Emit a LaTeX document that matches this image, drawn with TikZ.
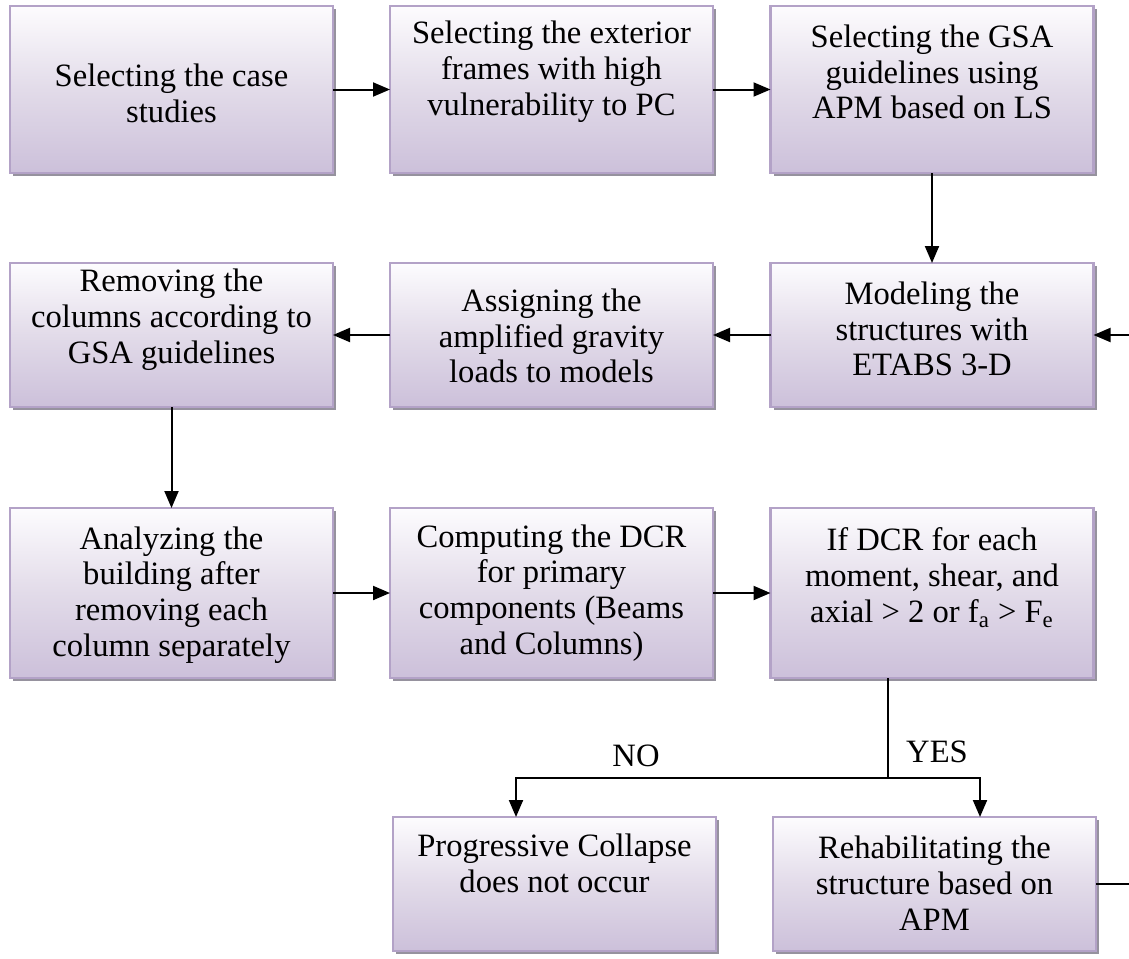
\documentclass[tikz,border=0pt]{standalone}
\usepackage{fontspec}
\setmainfont{Liberation Serif}
\usetikzlibrary{arrows.meta,shadows}
\definecolor{bord}{RGB}{179,162,199}
\definecolor{ftop}{RGB}{253,252,254}
\definecolor{fmid}{RGB}{226,219,233}
\definecolor{fbot}{RGB}{204,192,218}
\definecolor{shad}{RGB}{150,146,158}
\begin{document}
\begin{tikzpicture}[x=0.5pt,y=-0.5pt,
  box/.style={rectangle, draw=bord, line width=1.1pt, top color=ftop, bottom color=fbot, middle color=fmid,
    inner sep=0pt, outer sep=0pt, minimum width=161.5pt,
    drop shadow={shadow xshift=1.6pt, shadow yshift=-1.6pt, fill=shad, opacity=1}},
  rowa/.style={minimum height=83.5pt},
  rowb/.style={minimum height=72pt},
  rowc/.style={minimum height=85pt},
  rowd/.style={minimum height=67pt},
  txt/.style={align=center, font=\fontsize{16.3}{17.9}\selectfont, inner sep=0pt},
  lbl/.style={font=\fontsize{16.3}{17.9}\selectfont, inner sep=0pt},
  arr/.style={line width=1pt, -{Triangle[length=8.5pt,width=7pt]}},
  ln/.style={line width=1pt}]
\useasboundingbox (0,0) rectangle (1129,958);

% row 1
\node[box,rowa] (b1) at (171.5,89.5) {};
\node[box,rowa] (b2) at (551.5,89.5) {};
\node[box,rowa] (b3) at (932,89.5) {};
% row 2
\node[box,rowb] (b4) at (932,335) {};
\node[box,rowb] (b5) at (551.5,335) {};
\node[box,rowb] (b6) at (171.5,335) {};
% row 3
\node[box,rowc] (b7) at (171.5,593) {};
\node[box,rowc] (b8) at (551.5,593) {};
\node[box,rowc] (b9) at (932,593) {};
% row 4
\node[box,rowd] (b10) at (554.5,884) {};
\node[box,rowd] (b11) at (934.5,884) {};

% texts
\node[txt] (t1) at (171.5,93) {Selecting the case\\studies};
\node[txt] (t2) at (551.5,72) {Selecting the exterior\\frames with high\\vulnerability to PC};
\node[txt] (t3) at (932,72) {Selecting the GSA\\guidelines using\\APM based on LS};
\node[txt] (t4) at (932,329) {Modeling the\\structures with\\ETABS 3-D};
\node[txt] (t5) at (551.5,336) {Assigning the\\amplified gravity\\loads to models};
\node[txt] (t6) at (171.5,320) {Removing the\\columns according to\\GSA guidelines};
\node[txt] (t7) at (171.5,595) {Analyzing the\\building after\\removing each\\column separately};
\node[txt] (t8) at (551.5,593) {Computing the DCR\\for primary\\components (Beams\\and Columns)};
\node[txt] (t9) at (932,578) {If DCR for each\\moment, shear, and\\axial > 2 or f\textsubscript{a} > F\textsubscript{e}};
\node[txt] (t10) at (554.5,863) {Progressive Collapse\\does not occur};
\node[txt] (t11) at (934.5,883) {Rehabilitating the\\structure based on\\APM};

% labels
\node[lbl] (no) at (636,756) {NO};
\node[lbl] (yes) at (937,752) {YES};

% connectors
\coordinate (edge) at (1129,0);
\coordinate (j) at (888,778);
\coordinate (nol) at (516,778);
\coordinate (yesr) at (980,778);

\draw[arr] (b1.east) -- (b2.west);
\draw[arr] (b2.east) -- (b3.west);
\draw[arr] (b3.south) -- (b4.north);
\draw[arr] (b4.west) -- (b5.east);
\draw[arr] (b5.west) -- (b6.east);
\draw[arr] (b6.south) -- (b7.north);
\draw[arr] (b7.east) -- (b8.west);
\draw[arr] (b8.east) -- (b9.west);
\draw[ln] (j |- b9.south) -- (j);
\draw[arr] (j) -- (nol) -- (nol |- b10.north);
\draw[arr] (j) -- (yesr) -- (yesr |- b11.north);
\draw[ln] (b11.east) -- (b11.east -| edge);
\draw[arr] (edge |- b4.east) -- (b4.east);
\end{tikzpicture}
\end{document}
